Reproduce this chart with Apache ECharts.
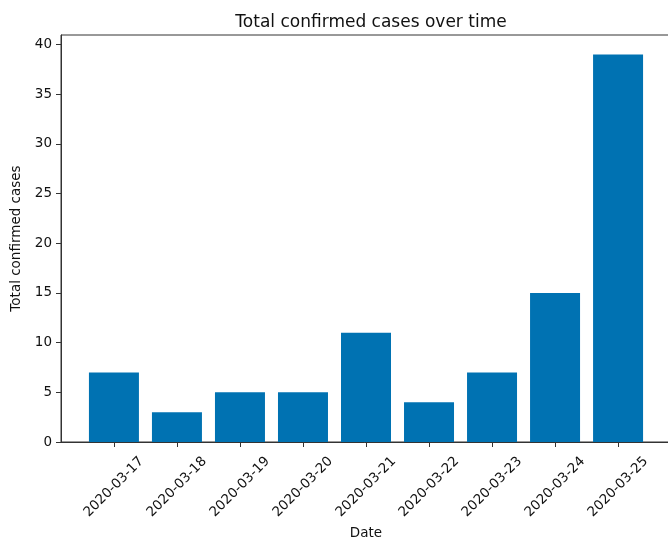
<!DOCTYPE html>
<html>
<head>
<meta charset="utf-8">
<script src="https://cdn.jsdelivr.net/npm/echarts@6/dist/echarts.min.js"></script>
<style>
  html, body { margin: 0; padding: 0; background: #fff; }
  #chart { width: 668px; height: 537px; }
</style>
</head>
<body>
<div id="chart"></div>
<script>
// Daily totals of confirmed cases
const dates = ['2020-03-17', '2020-03-18', '2020-03-19', '2020-03-20', '2020-03-21',
               '2020-03-22', '2020-03-23', '2020-03-24', '2020-03-25'];
const confirmed = [7, 3, 5, 5, 11, 4, 7, 15, 39];
const yTicks = [0, 5, 10, 15, 20, 25, 30, 35, 40];

const FONT = 'DejaVu Sans';
const positions = dates.map((_, i) => i);

const chart = echarts.init(document.getElementById('chart'), null, { renderer: 'canvas' });
chart.setOption({
  animation: false,
  backgroundColor: '#ffffff',
  title: {
    text: 'Total confirmed cases over time',
    left: 366,
    textAlign: 'center',
    top: 9,
    textStyle: { fontFamily: FONT, fontSize: 17, fontWeight: 'normal', color: '#111' }
  },
  grid: {
    left: 61, right: -3, top: 35, bottom: 95,
    outerBoundsMode: 'none',
    containLabel: false,
    show: true, borderColor: '#333', borderWidth: 1, backgroundColor: 'transparent'
  },
  xAxis: {
    type: 'value',
    min: -0.84,
    max: 8.84,
    name: 'Date',
    nameLocation: 'middle',
    nameGap: 82,
    nameTextStyle: { fontFamily: FONT, fontSize: 13.5, color: '#111' },
    splitLine: { show: false },
    axisLine: { show: true, onZero: false, lineStyle: { color: '#333', width: 1 } },
    axisTick: { show: true, length: 5, lineStyle: { color: '#333' }, customValues: positions },
    axisLabel: {
      customValues: positions,
      rotate: 45,
      align: 'center',
      verticalAlign: 'middle',
      margin: 45,
      fontFamily: FONT,
      fontSize: 13.5,
      color: '#111',
      formatter: v => dates[Math.round(v)]
    }
  },
  yAxis: {
    type: 'value',
    min: 0,
    max: 40.95,
    name: 'Total confirmed cases',
    nameLocation: 'middle',
    nameGap: 37,
    nameTextStyle: { fontFamily: FONT, fontSize: 13.5, color: '#111' },
    splitLine: { show: false },
    axisLine: { show: true, onZero: false, lineStyle: { color: '#333', width: 1 } },
    axisTick: { show: true, length: 5, lineStyle: { color: '#333' }, customValues: yTicks },
    axisLabel: {
      customValues: yTicks,
      margin: 9,
      fontFamily: FONT,
      fontSize: 13.5,
      color: '#111'
    }
  },
  series: [{
    type: 'bar',
    data: confirmed.map((v, i) => [positions[i], v]),
    barWidth: 50,
    itemStyle: { color: '#0072B2' }
  }]
});
</script>
</body>
</html>
